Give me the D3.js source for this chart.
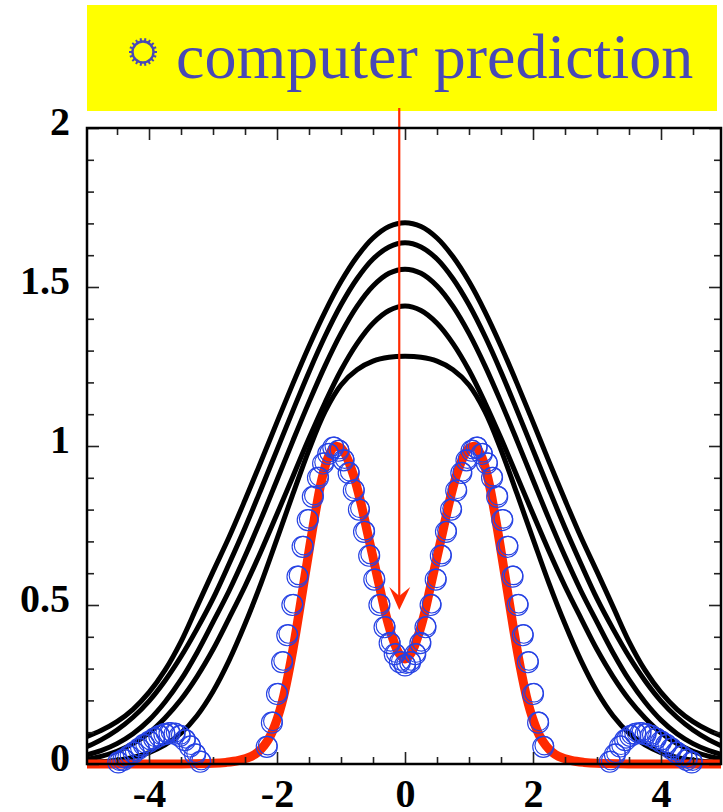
<!DOCTYPE html>
<html>
<head>
<meta charset="utf-8">
<script src="https://cdn.jsdelivr.net/npm/d3@7"></script>
<style>
  html, body { margin: 0; padding: 0; background: #fff; }
  svg { display: block; }
</style>
</head>
<body>
<svg id="chart" width="723" height="812"></svg>
<script>
// ---- data ---------------------------------------------------------------
const xMajorTicks = [-4, -2, 0, 2, 4];
const xMinorTicks = [-4.5, -3.5, -3, -2.5, -1.5, -1, -0.5, 0.5, 1, 1.5, 2.5, 3, 3.5, 4.5];
const yMajorTicks = [0, 0.5, 1, 1.5, 2];
const yMinorTicks = [0.1, 0.2, 0.3, 0.4, 0.6, 0.7, 0.8, 0.9, 1.1, 1.2, 1.3, 1.4, 1.6, 1.7, 1.8, 1.9];
const yTickLabels = ["0", "0.5", "1", "1.5", "2"];
const xTickLabels = ["-4", "-2", "0", "2", "4"];

// spreading packets (black curves), sampled every 0.25
const spreadX = [-5, -4.75, -4.5, -4.25, -4, -3.75, -3.5, -3.25, -3, -2.75, -2.5, -2.25, -2, -1.75, -1.5, -1.25, -1, -0.75, -0.5, -0.25, 0,
                 0.25, 0.5, 0.75, 1, 1.25, 1.5, 1.75, 2, 2.25, 2.5, 2.75, 3, 3.25, 3.5, 3.75, 4, 4.25, 4.5, 4.75, 5];
const spread1 = [0.084, 0.105, 0.133, 0.172, 0.225, 0.295, 0.385, 0.495, 0.605, 0.713, 0.830, 0.951, 1.075, 1.197, 1.314, 1.422, 1.517, 1.595, 1.654, 1.690, 1.702,
                 1.690, 1.654, 1.595, 1.517, 1.422, 1.314, 1.197, 1.075, 0.951, 0.830, 0.713, 0.605, 0.495, 0.385, 0.295, 0.225, 0.172, 0.133, 0.105, 0.084];
const spread2 = [0.052, 0.076, 0.107, 0.147, 0.198, 0.262, 0.338, 0.425, 0.52, 0.629, 0.743, 0.864, 0.988, 1.112, 1.233, 1.345, 1.444, 1.526, 1.588, 1.626, 1.639,
                 1.626, 1.588, 1.526, 1.444, 1.345, 1.233, 1.112, 0.988, 0.864, 0.743, 0.629, 0.52, 0.425, 0.338, 0.262, 0.198, 0.147, 0.107, 0.076, 0.052];
const spread3 = [0.027, 0.042, 0.064, 0.095, 0.138, 0.195, 0.265, 0.35, 0.446, 0.544, 0.653, 0.770, 0.893, 1.017, 1.138, 1.252, 1.354, 1.439, 1.503, 1.543, 1.556,
                 1.543, 1.503, 1.439, 1.354, 1.252, 1.138, 1.017, 0.893, 0.770, 0.653, 0.544, 0.446, 0.35, 0.265, 0.195, 0.138, 0.095, 0.064, 0.042, 0.027];
const spread4 = [0.014, 0.024, 0.04, 0.064, 0.098, 0.145, 0.203, 0.275, 0.36, 0.458, 0.559, 0.669, 0.786, 0.905, 1.024, 1.136, 1.238, 1.322, 1.386, 1.426, 1.44,
                 1.426, 1.386, 1.322, 1.238, 1.136, 1.024, 0.905, 0.786, 0.669, 0.559, 0.458, 0.36, 0.275, 0.203, 0.145, 0.098, 0.064, 0.04, 0.024, 0.014];
const spread5 = [0.004, 0.007, 0.012, 0.021, 0.036, 0.06, 0.097, 0.152, 0.228, 0.325, 0.44, 0.568, 0.708, 0.85, 0.988, 1.108, 1.192, 1.240, 1.267, 1.279, 1.282,
                 1.279, 1.267, 1.240, 1.192, 1.108, 0.988, 0.85, 0.708, 0.568, 0.44, 0.325, 0.228, 0.152, 0.097, 0.06, 0.036, 0.021, 0.012, 0.007, 0.004];

// target distribution (red curve)
const targetX = [-5, -4, -3.5, -3, -2.8, -2.6, -2.4, -2.3, -2.2, -2.1, -2, -1.9, -1.8, -1.7, -1.6, -1.5, -1.4, -1.3, -1.2, -1.1, -1, -0.9, -0.8, -0.7, -0.6, -0.5, -0.4, -0.3, -0.2, -0.1, 0,
                 0.1, 0.2, 0.3, 0.4, 0.5, 0.6, 0.7, 0.8, 0.9, 1, 1.1, 1.2, 1.3, 1.4, 1.5, 1.6, 1.7, 1.8, 1.9, 2, 2.1, 2.2, 2.3, 2.4, 2.6, 2.8, 3, 3.5, 4, 5];
const targetY = [0, 0, 0, 0.002, 0.005, 0.011, 0.024, 0.037, 0.058, 0.09, 0.14, 0.21, 0.306, 0.42, 0.545, 0.67, 0.79, 0.895, 0.965, 0.998, 0.993, 0.96, 0.905, 0.83, 0.74, 0.65, 0.56, 0.47, 0.40, 0.35, 0.33,
                 0.35, 0.40, 0.47, 0.56, 0.65, 0.74, 0.83, 0.905, 0.96, 0.993, 0.998, 0.965, 0.895, 0.79, 0.67, 0.545, 0.42, 0.306, 0.21, 0.14, 0.09, 0.058, 0.037, 0.024, 0.011, 0.005, 0.002, 0, 0, 0];

// computer prediction (circles)
const predX = [-4.48, -4.40, -4.32, -4.24, -4.16, -4.08, -4.00, -3.92, -3.84, -3.76, -3.68, -3.60, -3.52, -3.44, -3.36, -3.28, -3.20,
               -2.16, -2.08, -2.00, -1.92, -1.84, -1.76, -1.68, -1.60, -1.52, -1.44, -1.36, -1.28, -1.20, -1.12, -1.04, -0.96, -0.88, -0.80, -0.72, -0.64, -0.56, -0.48, -0.40, -0.32, -0.24, -0.16, -0.08,
               0.00, 0.08, 0.16, 0.24, 0.32, 0.40, 0.48, 0.56, 0.64, 0.72, 0.80, 0.88, 0.96, 1.04, 1.12, 1.20, 1.28, 1.36, 1.44, 1.52, 1.60, 1.68, 1.76, 1.84, 1.92, 2.00, 2.08, 2.16,
               3.20, 3.28, 3.36, 3.44, 3.52, 3.60, 3.68, 3.76, 3.84, 3.92, 4.00, 4.08, 4.16, 4.24, 4.32, 4.40, 4.48];
const predY = [0.005, 0.013, 0.024, 0.036, 0.048, 0.06, 0.07, 0.08, 0.088, 0.094, 0.097, 0.095, 0.088, 0.075, 0.055, 0.03, 0.007,
               0.054, 0.13, 0.22, 0.32, 0.405, 0.50, 0.589, 0.683, 0.767, 0.84, 0.90, 0.945, 0.975, 0.995, 0.985, 0.955, 0.915, 0.86, 0.80, 0.73, 0.655, 0.58, 0.50, 0.43, 0.38, 0.345, 0.32,
               0.31, 0.32, 0.345, 0.38, 0.43, 0.50, 0.58, 0.655, 0.73, 0.80, 0.86, 0.915, 0.955, 0.985, 0.995, 0.975, 0.945, 0.90, 0.84, 0.767, 0.683, 0.589, 0.50, 0.405, 0.32, 0.22, 0.13, 0.054,
               0.007, 0.03, 0.055, 0.075, 0.088, 0.095, 0.097, 0.094, 0.088, 0.08, 0.07, 0.06, 0.048, 0.036, 0.024, 0.013, 0.005];

const legendText = "computer prediction";
const arrowX = -0.09, arrowFrom = 2.063, arrowTo = 0.484;

// ---- layout -------------------------------------------------------------
const svg = d3.select("#chart");
const plotL = 87, plotR = 721, plotT = 128, plotB = 764;
const x = d3.scaleLinear().domain([-4.969, 4.9375]).range([plotL, plotR]);
const y = d3.scaleLinear().domain([0, 2]).range([plotB, plotT]);

const serif = "'Liberation Serif', 'Times New Roman', serif";
const circleBlue = "#2642e4";
const red = "#ff2a00";

// legend banner
svg.append("rect").attr("x", 87).attr("y", 5).attr("width", 630).attr("height", 106).attr("fill", "#ffff00");
const legendColor = "#4848b6";
const icon = svg.append("g").attr("transform", "translate(143,52)");
icon.append("circle").attr("r", 10.5).attr("fill", "none").attr("stroke", legendColor).attr("stroke-width", 2.4);
d3.range(18).forEach(i => {
  const a = i / 18 * 2 * Math.PI;
  icon.append("line")
    .attr("x1", Math.cos(a) * 10.5).attr("y1", Math.sin(a) * 10.5)
    .attr("x2", Math.cos(a) * 14).attr("y2", Math.sin(a) * 14)
    .attr("stroke", legendColor).attr("stroke-width", 2);
});
svg.append("text").attr("x", 176).attr("y", 78)
  .attr("font-family", serif).attr("font-size", 64).attr("fill", legendColor)
  .text(legendText);

// clip lines horizontally to the frame
svg.append("clipPath").attr("id", "plotClip")
  .append("rect").attr("x", plotL).attr("y", 0).attr("width", plotR - plotL).attr("height", 812);

const plot = svg.append("g").attr("clip-path", "url(#plotClip)");
const line = d3.line().x(d => x(d[0])).y(d => y(d[1])).curve(d3.curveCatmullRom.alpha(0.5));

[spread1, spread2, spread3, spread4, spread5].forEach(series => {
  plot.append("path")
    .datum(spreadX.map((v, i) => [v, series[i]]))
    .attr("d", line).attr("fill", "none").attr("stroke", "#000").attr("stroke-width", 5);
});

plot.append("path")
  .datum(targetX.map((v, i) => [v, targetY[i]]))
  .attr("d", line).attr("fill", "none").attr("stroke", red).attr("stroke-width", 9)
  .attr("stroke-linejoin", "round");

// prediction circles, each drawn as a double ring
const pts = predX.map((v, i) => [v, predY[i]]);
const pg = svg.append("g").attr("fill", "none").attr("stroke", circleBlue).attr("stroke-width", 1.15);
pg.selectAll("circle.a").data(pts).join("circle").attr("class", "a")
  .attr("cx", d => x(d[0])).attr("cy", d => y(d[1])).attr("r", 10.5);
pg.selectAll("circle.b").data(pts).join("circle").attr("class", "b")
  .attr("cx", d => x(d[0]) + 1).attr("cy", d => y(d[1]) - 1.3).attr("r", 9.3);

// arrow from the banner down to the dip
const ax = x(arrowX), ay0 = y(arrowFrom), ay1 = y(arrowTo);
svg.append("line").attr("x1", ax).attr("y1", ay0).attr("x2", ax).attr("y2", ay1 - 14)
  .attr("stroke", red).attr("stroke-width", 2.2);
svg.append("path")
  .attr("d", `M${ax},${ay1} L${ax - 10},${ay1 - 23} L${ax},${ay1 - 14} L${ax + 11},${ay1 - 23} Z`)
  .attr("fill", red);

// ---- frame and ticks ----------------------------------------------------
const frame = svg.append("g");
function styleAxis(g) {
  g.select(".domain").remove();
  g.selectAll(".tick line").attr("stroke", "#222").attr("stroke-width", 1.6);
}
const fmtLabel = labels => (d, i) => labels[i];

frame.append("g").attr("transform", `translate(0,${plotB})`)
  .call(d3.axisBottom(x).tickValues(xMajorTicks).tickSize(-12).tickPadding(15).tickFormat(fmtLabel(xTickLabels)))
  .call(styleAxis)
  .call(g => g.selectAll("text").attr("font-family", serif).attr("font-weight", "bold")
    .attr("font-size", 40).attr("fill", "#000"));
frame.append("g").attr("transform", `translate(0,${plotB})`)
  .call(d3.axisBottom(x).tickValues(xMinorTicks).tickSize(-7).tickFormat(""))
  .call(styleAxis);
frame.append("g").attr("transform", `translate(0,${plotT})`)
  .call(d3.axisTop(x).tickValues(xMajorTicks).tickSize(-12).tickFormat(""))
  .call(styleAxis);
frame.append("g").attr("transform", `translate(0,${plotT})`)
  .call(d3.axisTop(x).tickValues(xMinorTicks).tickSize(-7).tickFormat(""))
  .call(styleAxis);

frame.append("g").attr("transform", `translate(${plotL},0)`)
  .call(d3.axisLeft(y).tickValues(yMajorTicks).tickSize(-12).tickPadding(17).tickFormat(fmtLabel(yTickLabels)))
  .call(styleAxis)
  .call(g => g.selectAll("text").attr("font-family", serif).attr("font-weight", "bold")
    .attr("font-size", 40).attr("fill", "#000").attr("dy", null).attr("y", 6));
frame.append("g").attr("transform", `translate(${plotL},0)`)
  .call(d3.axisLeft(y).tickValues(yMinorTicks).tickSize(-7).tickFormat(""))
  .call(styleAxis);
frame.append("g").attr("transform", `translate(${plotR},0)`)
  .call(d3.axisRight(y).tickValues(yMajorTicks).tickSize(-12).tickFormat(""))
  .call(styleAxis);
frame.append("g").attr("transform", `translate(${plotR},0)`)
  .call(d3.axisRight(y).tickValues(yMinorTicks).tickSize(-7).tickFormat(""))
  .call(styleAxis);

frame.append("rect").attr("x", plotL).attr("y", plotT).attr("width", plotR - plotL).attr("height", plotB - plotT)
  .attr("fill", "none").attr("stroke", "#000").attr("stroke-width", 2.5);
</script>
</body>
</html>
